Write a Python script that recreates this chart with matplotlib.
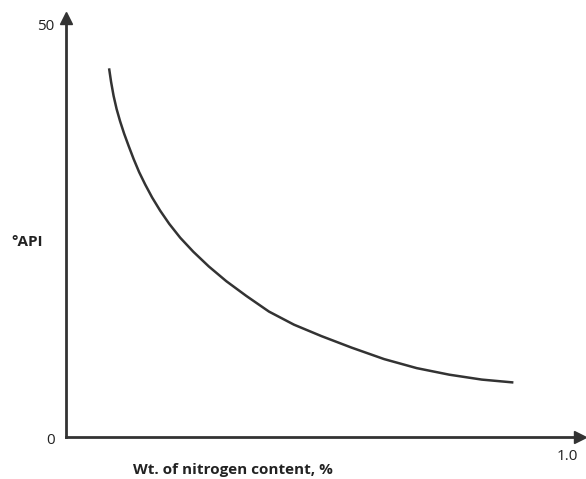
import matplotlib
matplotlib.use("Agg")
import matplotlib.pyplot as plt

# curve: nitrogen wt% vs API gravity
nitrogen = [0.086, 0.090, 0.095, 0.101, 0.108, 0.116, 0.125, 0.135, 0.146,
            0.158, 0.172, 0.188, 0.206, 0.228, 0.254, 0.285, 0.320, 0.360,
            0.405, 0.455, 0.510, 0.570, 0.635, 0.700, 0.765, 0.830, 0.893]
api = [44.96, 43.3, 41.6, 40.0, 38.5, 37.0, 35.5, 33.9, 32.3,
       30.8, 29.2, 27.6, 26.0, 24.3, 22.6, 20.8, 19.0, 17.2,
       15.3, 13.7, 12.3, 10.9, 9.5, 8.4, 7.6, 7.0, 6.65]

W, H = 586, 479
ink = "#333333"
plt.rcParams['font.family'] = ['Open Sans', 'DejaVu Sans']

fig = plt.figure(figsize=(W / 100, H / 100), dpi=100)
# axes from origin (66,437) to (580,18) in pixels
ax = fig.add_axes([66 / W, (H - 437) / H, (580 - 66) / W, (437 - 18) / H])
ax.set_xlim(0, (580 - 66) / 501)
ax.set_ylim(0, (437 - 18) / 8.2)

ax.plot(nitrogen, api, color=ink, lw=1.8, solid_capstyle='butt',
        solid_joinstyle='round')

for s in ['top', 'right']:
    ax.spines[s].set_visible(False)
for s in ['left', 'bottom']:
    ax.spines[s].set_color(ink)
    ax.spines[s].set_linewidth(2.0)
ax.set_xticks([])
ax.set_yticks([])

# arrow heads
ax.plot(1, 0, marker='>', color=ink, ms=9, transform=ax.transAxes, clip_on=False)
ax.plot(0, 1, marker='^', color=ink, ms=9, transform=ax.transAxes, clip_on=False)

def px(x, y, s, **kw):
    fig.text(x / W, 1 - y / H, s, color="#222222", **kw)

px(46, 27, "50", fontsize=11, ha='center', va='center')
px(51, 440, "0", fontsize=11, ha='center', va='center')
px(567, 457, "1.0", fontsize=11, ha='center', va='center')
px(27, 242, "°API", fontsize=11, ha='center', va='center', fontweight='bold')
px(233, 470, "Wt. of nitrogen content, %", fontsize=11, ha='center', va='center',
   fontweight='bold')

fig.savefig("out.png", dpi=100)
